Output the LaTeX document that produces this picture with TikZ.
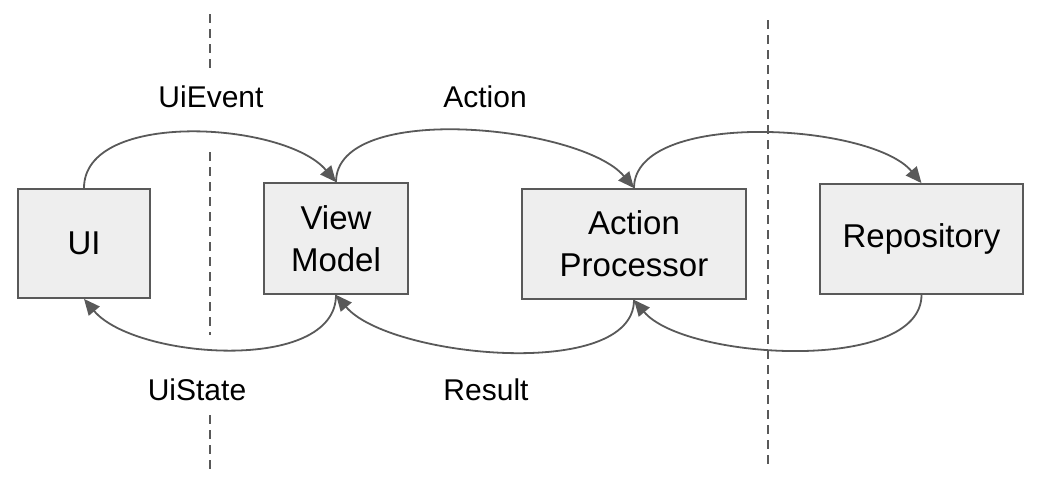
\documentclass[tikz,border=0pt]{standalone}
\usepackage{fontspec}
\setmainfont{Liberation Sans}
\usetikzlibrary{arrows.meta}

\definecolor{linegray}{HTML}{595959}
\definecolor{boxgray}{HTML}{EEEEEE}

\tikzset{
  block/.style={draw=linegray, line width=1.8pt, fill=boxgray, align=center,
    inner sep=0pt, font=\fontsize{33}{42}\selectfont},
  flow/.style={draw=linegray, line width=1.8pt,
    -{Triangle[length=16pt,width=14pt]}},
  divider/.style={draw=linegray, line width=1.8pt, dash pattern=on 9pt off 6pt},
  lbl/.style={font=\fontsize{30}{36}\selectfont}
}

\begin{document}
\begin{tikzpicture}[x=1pt,y=-1pt]
\useasboundingbox (0,0) rectangle (1038,482);

%% boundaries
\draw[divider] (210,14) -- (210,70);
\draw[divider] (210,152) -- (210,335);
\draw[divider] (210,415) -- (210,470);
\draw[divider] (768,20) -- (768,468);

%% boxes
\node[block, minimum width=132pt, minimum height=109pt] (ui)   at (84,243.5)  {UI};
\node[block, minimum width=144pt, minimum height=111pt] (vm)   at (336,238.5) {View\\Model};
\node[block, minimum width=224pt, minimum height=110pt] (ap)   at (634,244)   {Action\\Processor};
\node[block, minimum width=203pt, minimum height=110pt] (repo) at (921.5,239) {Repository};

%% labels
\node[lbl] (uievent) at (211,97)  {UiEvent};
\node[lbl] (action)  at (485,97)  {Action};
\node[lbl] (uistate) at (197,390) {UiState};
\node[lbl] (result)  at (486,390) {Result};

%% forward edges
\draw[flow] (ui.north) to [out=90, in=130, looseness=0.8] (vm.north);     %% ui -> vm
\draw[flow] (vm.north) to [out=90, in=130, looseness=0.7] (ap.north);     %% vm -> ap
\draw[flow] (ap.north) to [out=90, in=130, looseness=0.7] (repo.north);   %% ap -> repo

%% backward edges
\draw[flow] (repo.south) to [out=-90, in=-50, looseness=0.7] (ap.south);  %% repo -> ap
\draw[flow] (ap.south) to [out=-90, in=-50, looseness=0.7] (vm.south);    %% ap -> vm
\draw[flow] (vm.south) to [out=-90, in=-50, looseness=0.8] (ui.south);    %% vm -> ui
\end{tikzpicture}
\end{document}
